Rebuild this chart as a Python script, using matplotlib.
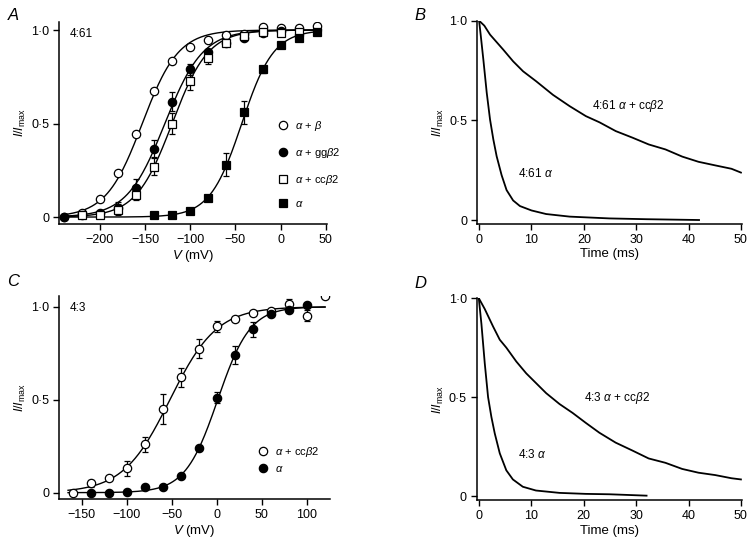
import numpy as np
import matplotlib
matplotlib.use('Agg')
import matplotlib.pyplot as plt

plt.rcParams['font.family'] = ['Liberation Sans', 'DejaVu Sans']
plt.rcParams['mathtext.fontset'] = 'custom'
plt.rcParams['mathtext.rm'] = 'Liberation Sans'
plt.rcParams['mathtext.it'] = 'Liberation Sans:italic'
plt.rcParams['font.size'] = 8.5

# ---- panel A: 4:61 activation curves
vA = [-240, -220, -200, -180, -160, -140, -120, -100, -80, -60, -40, -20, 0, 20, 40]
ab_A = [0.0, 0.02, 0.094, 0.233, 0.442, 0.674, 0.836, 0.907, 0.945, 0.973, 0.98, 1.014, 1.01, 1.012, 1.02]

v_gg = [-240, -220, -200, -180, -160, -140, -120, -100, -80, -60, -40, -20, 0]
gg_A = [0.0, 0.01, 0.02, 0.05, 0.157, 0.365, 0.617, 0.79, 0.88, 0.93, 0.96, 0.985, 0.995]
gg_err = [0, 0, 0, 0.03, 0.045, 0.045, 0.05, 0.03, 0, 0, 0, 0, 0]

v_cc = [-220, -200, -180, -160, -140, -120, -100, -80, -60, -40, -20, 0, 20]
cc_A = [0.01, 0.01, 0.04, 0.12, 0.27, 0.5, 0.73, 0.85, 0.93, 0.97, 0.99, 0.985, 0.99]
cc_err = [0, 0, 0.03, 0.03, 0.045, 0.055, 0.05, 0.03, 0, 0, 0, 0, 0]

v_a = [-140, -120, -100, -80, -60, -40, -20, 0, 20, 40]
a_A = [0.01, 0.01, 0.03, 0.1, 0.28, 0.56, 0.79, 0.92, 0.96, 0.99]
a_err = [0, 0, 0, 0, 0.06, 0.06, 0.02, 0, 0, 0]

# Boltzmann fits (V half, slope)
fitA = {'ab': (-153, 20), 'gg': (-128, 21), 'cc': (-120, 20), 'a': (-43, 17.6)}

# ---- panel C: 4:3 activation curves
vC_cc = [-160, -140, -120, -100, -80, -60, -40, -20, 0, 20, 40, 60, 80, 100, 120]
cc_C = [0.0, 0.05, 0.077, 0.13, 0.26, 0.45, 0.62, 0.774, 0.896, 0.934, 0.964, 0.977, 1.014, 0.953, 1.057]
cc_C_err = [0, 0.02, 0, 0.04, 0.04, 0.08, 0.05, 0.05, 0.03, 0, 0, 0, 0.03, 0.03, 0]

vC_a = [-140, -120, -100, -80, -60, -40, -20, 0, 20, 40, 60, 80, 100]
a_C = [0.0, 0.0, 0.005, 0.03, 0.03, 0.09, 0.24, 0.51, 0.74, 0.88, 0.96, 0.98, 1.01]
a_C_err = [0, 0, 0, 0, 0, 0, 0, 0.03, 0.05, 0.04, 0, 0, 0]

fitC = {'cc': (-52, 26), 'a': (1, 18)}

# ---- panel B: 4:61 current decay traces
tB_a = [0, 0.3, 0.82, 1.46, 2.09, 2.72, 3.35, 4.3, 5.25, 6.5, 7.8, 10, 12.8, 17.3, 24.9, 32, 42]
iB_a = [1.0, 0.93, 0.803, 0.638, 0.504, 0.404, 0.32, 0.225, 0.15, 0.098, 0.07, 0.048, 0.03, 0.017, 0.008, 0.004, 0.0]
tB_cc = [0, 1, 2.09, 4.6, 6.5, 8.4, 10.9, 14.1, 17.3, 20.4, 23.0, 26.1, 29.3, 32.4, 35.6, 38.8, 41.9, 45.1, 48.2, 50]
iB_cc = [1.0, 0.975, 0.93, 0.855, 0.796, 0.746, 0.696, 0.628, 0.571, 0.521, 0.49, 0.446, 0.413, 0.379, 0.354, 0.318, 0.292, 0.274, 0.257, 0.238]

# ---- panel D: 4:3 current decay traces
tD_a = [0, 0.5, 1.14, 1.77, 2.4, 3.04, 4.0, 5.25, 6.5, 8.4, 10.9, 15.4, 20.4, 24.9, 28, 32]
iD_a = [1.0, 0.87, 0.67, 0.50, 0.40, 0.317, 0.216, 0.13, 0.084, 0.047, 0.028, 0.016, 0.011, 0.009, 0.006, 0.002]
tD_cc = [0, 1.14, 2.72, 4.0, 5.25, 7.15, 9.05, 10.95, 12.85, 15.4, 17.9, 20.4, 23.0, 26.1, 29.3, 32.4, 35.6, 38.8, 41.9, 45.1, 48.2, 50]
iD_cc = [1.0, 0.945, 0.857, 0.79, 0.75, 0.68, 0.62, 0.57, 0.52, 0.465, 0.42, 0.37, 0.32, 0.27, 0.23, 0.19, 0.168, 0.137, 0.118, 0.106, 0.09, 0.084]

ylabel = r'$I/I_{\rm max}$'
ms = 6.0


def boltz(v, vh, k):
    return 1.0 / (1.0 + np.exp((vh - v) / k))


def style(ax, xlim, ylim):
    for s in ['top', 'right']:
        ax.spines[s].set_visible(False)
    for s in ['left', 'bottom']:
        ax.spines[s].set_linewidth(1.1)
    ax.tick_params(direction='out', length=4, width=1.0, labelsize=9, pad=3)
    ax.set_xlim(*xlim)
    ax.set_ylim(*ylim)
    ax.set_yticks([0, 0.5, 1.0])
    ax.set_yticklabels(['0', '0·5', '1·0'])
    ax.set_ylabel(ylabel, fontsize=9, labelpad=2)


def points(ax, v, y, err, marker, face, label):
    v = np.array(v); y = np.array(y); err = np.array(err)
    m = err > 0
    ax.errorbar(v[m], y[m], yerr=err[m], fmt='none', ecolor='k', elinewidth=0.9,
                capsize=2.5, capthick=0.9, zorder=3)
    ax.plot(v, y, marker, ms=ms, mfc=face, mec='k', mew=0.9, ls='none',
            zorder=4, label=label)


fig = plt.figure(figsize=(7.5, 5.47), dpi=100)

axA = fig.add_axes([0.0787, 0.5905, 0.357, 0.3693])
axB = fig.add_axes([0.636, 0.5905, 0.3533, 0.3717])
axC = fig.add_axes([0.0787, 0.0878, 0.3607, 0.3711])
axD = fig.add_axes([0.6356, 0.0859, 0.3537, 0.369])

# panel A
vfit = np.linspace(-240, 45, 300)
for key in ['ab', 'gg', 'cc', 'a']:
    axA.plot(vfit, boltz(vfit, *fitA[key]), 'k-', lw=1.0, zorder=2)
points(axA, vA, ab_A, np.zeros(len(vA)), 'o', 'white', r'$\alpha$ + $\beta$')
points(axA, v_gg, gg_A, gg_err, 'o', 'black', r'$\alpha$ + gg$\beta$2')
points(axA, v_cc, cc_A, cc_err, 's', 'white', r'$\alpha$ + cc$\beta$2')
points(axA, v_a, a_A, a_err, 's', 'black', r'$\alpha$')
style(axA, (-245, 51), (-0.037, 1.043))
axA.set_xticks([-200, -150, -100, -50, 0, 50])
axA.set_xlabel(r'$V$ (mV)', fontsize=9.5, labelpad=2)
axA.text(0.04, 0.97, '4:61', transform=axA.transAxes, fontsize=8.5, va='top')
axA.legend(loc='upper left', bbox_to_anchor=(0.815, 0.52), frameon=False,
           handlelength=1.0, handletextpad=0.6, borderpad=0, borderaxespad=0,
           labelspacing=1.15, fontsize=8)

# panel C
vfitC = np.linspace(-165, 120, 300)
for key in ['cc', 'a']:
    axC.plot(vfitC, boltz(vfitC, *fitC[key]), 'k-', lw=1.0, zorder=2)
points(axC, vC_cc, cc_C, cc_C_err, 'o', 'white', r'$\alpha$ + cc$\beta$2')
points(axC, vC_a, a_C, a_C_err, 'o', 'black', r'$\alpha$')
style(axC, (-175, 125), (-0.034, 1.058))
axC.set_xticks([-150, -100, -50, 0, 50, 100])
axC.set_xlabel(r'$V$ (mV)', fontsize=9.5, labelpad=2)
axC.text(0.04, 0.97, '4:3', transform=axC.transAxes, fontsize=8.5, va='top')
axC.legend(loc='upper left', bbox_to_anchor=(0.734, 0.265), frameon=False,
           handlelength=1.0, handletextpad=0.6, borderpad=0, borderaxespad=0,
           labelspacing=0.45, fontsize=8)

# panel B
axB.plot(tB_a, iB_a, 'k-', lw=1.3)
axB.plot(tB_cc, iB_cc, 'k-', lw=1.3)
style(axB, (-0.4, 50.2), (-0.02, 1.0))
axB.set_xticks([0, 10, 20, 30, 40, 50])
axB.set_xlabel('Time (ms)', fontsize=9.5, labelpad=2)
axB.text(21.5, 0.57, r'4:61 $\alpha$ + cc$\beta$2', fontsize=8.5, va='center')
axB.text(7.4, 0.235, r'4:61 $\alpha$', fontsize=8.5, va='center')

# panel D
axD.plot(tD_a, iD_a, 'k-', lw=1.3)
axD.plot(tD_cc, iD_cc, 'k-', lw=1.3)
style(axD, (-0.4, 50.2), (-0.02, 1.0))
axD.set_xticks([0, 10, 20, 30, 40, 50])
axD.set_xlabel('Time (ms)', fontsize=9.5, labelpad=2)
axD.text(20.0, 0.495, r'4:3 $\alpha$ + cc$\beta$2', fontsize=8.5, va='center')
axD.text(7.4, 0.212, r'4:3 $\alpha$', fontsize=8.5, va='center')

# panel letters
for x, y, s in [(0.01, 0.985, 'A'), (0.553, 0.985, 'B'), (0.01, 0.5, 'C'), (0.553, 0.495, 'D')]:
    fig.text(x, y, s, fontsize=12, style='italic', va='top')

fig.savefig('out.png', dpi=100)
